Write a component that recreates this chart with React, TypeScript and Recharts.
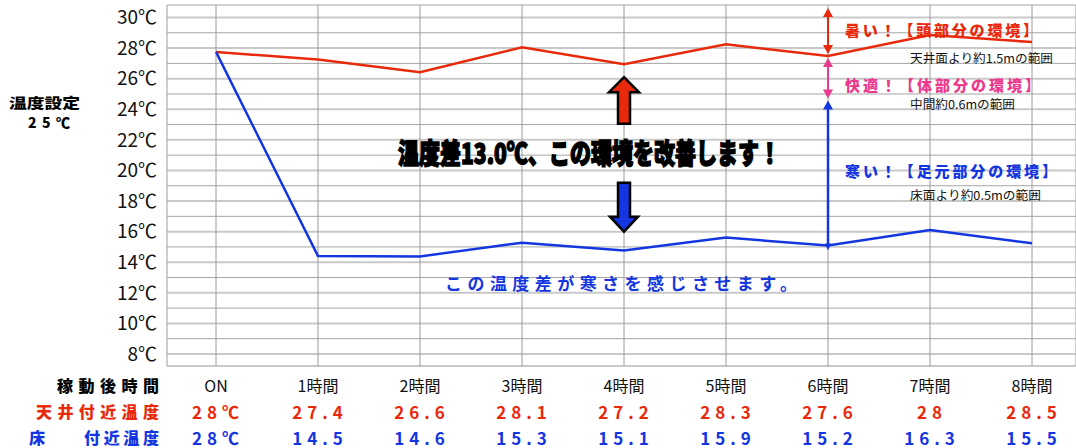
import React from 'react';
import { LineChart, Line, XAxis, YAxis, CartesianGrid, ReferenceLine } from 'recharts';

// ---- data ----
const hours = ['ON', '1時間', '2時間', '3時間', '4時間', '5時間', '6時間', '7時間', '8時間'];
const ceilingTemps = [27.75, 27.25, 26.42, 28.05, 26.94, 28.25, 27.48, 28.85, 28.4];
const floorTemps = [27.75, 14.4, 14.38, 15.28, 14.76, 15.61, 15.09, 16.1, 15.24];
const ceilingLabels = ['28℃', '27.4', '26.6', '28.1', '27.2', '28.3', '27.6', '28', '28.5'];
const floorLabels = ['28℃', '14.5', '14.6', '15.3', '15.1', '15.9', '15.2', '16.3', '15.5'];
const yTicks = [8, 9, 10, 11, 12, 13, 14, 15, 16, 17, 18, 19, 20, 21, 22, 23, 24, 25, 26, 27, 28, 29, 30];
const yDomain = [7.215, 30.817];

// annotation anchors (data units)
const zoneHour = '6時間';
const comfortBottom = 24.7;
const arrowHour = '4時間';
const upArrowRange = [26.1, 23.05];
const downArrowRange = [19.2, 16.0];

const RED = '#e8290b';
const BLUE = '#1436e0';
const PINK = '#ec3a8e';
const FONT = '"Noto Sans CJK JP", "Noto Sans", sans-serif';

const data = hours.map((h, i) => ({ hour: h, ceiling: ceilingTemps[i], floor: floorTemps[i] }));

const headUp = (x: number, y: number, c: string, w = 5, h = 9) => (
  <polygon points={`${x},${y} ${x - w},${y + h} ${x + w},${y + h}`} fill={c} />
);
const headDown = (x: number, y: number, c: string, w = 5, h = 9) => (
  <polygon points={`${x},${y} ${x - w},${y - h} ${x + w},${y - h}`} fill={c} />
);

const ends = (p: any) => {
  const top = Math.min(p.y1, p.y2);
  const bottom = Math.max(p.y1, p.y2);
  return { x: p.x1, top, bottom };
};

const RedDouble = (p: any) => {
  const { x, top, bottom } = ends(p);
  return (
    <g>
      <line x1={x} x2={x} y1={top + 6} y2={bottom - 6} stroke={RED} strokeWidth={2} />
      {headUp(x, top + 3, RED)}
      {headDown(x, bottom - 2, RED)}
    </g>
  );
};
const PinkDouble = (p: any) => {
  const { x, top, bottom } = ends(p);
  return (
    <g>
      <line x1={x} x2={x} y1={top + 6} y2={bottom - 6} stroke={PINK} strokeWidth={2} />
      {headUp(x, top + 2, PINK)}
      {headDown(x, bottom, PINK)}
    </g>
  );
};
const BlueArrow = (p: any) => {
  const { x, top, bottom } = ends(p);
  return (
    <g>
      <line x1={x} x2={x} y1={top + 8} y2={bottom + 2} stroke={BLUE} strokeWidth={2.5} />
      {headUp(x, top + 2, BLUE)}
      {headDown(x, bottom + 5, BLUE, 3, 7)}
    </g>
  );
};

const BlockUp = (p: any) => {
  const { x, top, bottom } = ends(p);
  const hw = 15, sw = 6, hh = 15;
  const pts = [
    [x, top], [x + hw, top + hh], [x + sw, top + hh], [x + sw, bottom],
    [x - sw, bottom], [x - sw, top + hh], [x - hw, top + hh],
  ].map((q) => q.join(',')).join(' ');
  return <polygon points={pts} fill={RED} stroke="#000" strokeWidth={2.5} strokeLinejoin="miter" />;
};
const BlockDown = (p: any) => {
  const { x, top, bottom } = ends(p);
  const hw = 14, sw = 6, hh = 15;
  const pts = [
    [x, bottom], [x + hw, bottom - hh], [x + sw, bottom - hh], [x + sw, top],
    [x - sw, top], [x - sw, bottom - hh], [x - hw, bottom - hh],
  ].map((q) => q.join(',')).join(' ');
  return <polygon points={pts} fill={BLUE} stroke="#000" strokeWidth={2.5} strokeLinejoin="miter" />;
};

const HourTick = (props: any) => {
  const { x, y, payload } = props;
  const i = hours.indexOf(payload.value);
  return (
    <g fontFamily={FONT}>
      <text x={x} y={y + 19} textAnchor="middle" dominantBaseline="central" fontSize={16} fill="#111">
        {payload.value}
      </text>
      <text x={x + 2} y={y + 45} textAnchor="middle" dominantBaseline="central" fontSize={17} fontWeight={700} letterSpacing={5} fill={RED}>
        {ceilingLabels[i]}
      </text>
      <text x={x + 2} y={y + 71} textAnchor="middle" dominantBaseline="central" fontSize={17} fontWeight={700} letterSpacing={5} fill={BLUE}>
        {floorLabels[i]}
      </text>
    </g>
  );
};

const gridLine = (props: any) => {
  const even = props.index % 2 === 0;
  return (
    <line
      key={props.key}
      x1={props.x1}
      x2={props.x2}
      y1={props.y1}
      y2={props.y2}
      stroke={even ? '#c9c9c9' : '#a5a5a5'}
      strokeWidth={even ? 2 : 1}
    />
  );
};

export default function App() {
  return (
    <div style={{ position: 'absolute', left: 0, top: 0, width: 1076, height: 448, background: '#fff' }}>
      <LineChart width={1076} height={448} data={data} margin={{ top: 5, right: 0, bottom: 0, left: 0 }}>
        <CartesianGrid horizontal={gridLine} vertical={true} stroke="#9c9c9c" strokeWidth={1} />
        <XAxis
          dataKey="hour"
          type="category"
          padding={{ left: 49, right: 44 }}
          axisLine={false}
          tickLine={false}
          tickSize={0}
          tickMargin={0}
          height={82}
          interval={0}
          tick={<HourTick />}
        />
        <YAxis
          type="number"
          domain={yDomain}
          allowDataOverflow
          ticks={yTicks}
          interval={0}
          width={167}
          axisLine={false}
          tickLine={false}
          tickSize={0}
          tickMargin={10}
          tick={{ fontSize: 19, fill: '#111', fontFamily: FONT }}
          tickFormatter={(v: number) => (v % 2 === 0 ? `${v}℃` : '')}
        />
        <Line type="linear" dataKey="ceiling" stroke={RED} strokeWidth={2.5} dot={false} isAnimationActive={false} />
        <Line type="linear" dataKey="floor" stroke={BLUE} strokeWidth={2.5} dot={false} isAnimationActive={false} />
        <ReferenceLine
          ifOverflow="visible"
          segment={[{ x: zoneHour, y: yDomain[1] }, { x: zoneHour, y: ceilingTemps[6] }]}
          shape={RedDouble}
        />
        <ReferenceLine
          ifOverflow="visible"
          segment={[{ x: zoneHour, y: ceilingTemps[6] }, { x: zoneHour, y: comfortBottom }]}
          shape={PinkDouble}
        />
        <ReferenceLine
          ifOverflow="visible"
          segment={[{ x: zoneHour, y: comfortBottom }, { x: zoneHour, y: floorTemps[6] }]}
          shape={BlueArrow}
        />
        <ReferenceLine
          ifOverflow="visible"
          segment={[{ x: arrowHour, y: upArrowRange[0] }, { x: arrowHour, y: upArrowRange[1] }]}
          shape={BlockUp}
        />
        <ReferenceLine
          ifOverflow="visible"
          segment={[{ x: arrowHour, y: downArrowRange[0] }, { x: arrowHour, y: downArrowRange[1] }]}
          shape={BlockDown}
        />
      </LineChart>
      <svg
        width={1076}
        height={448}
        style={{ position: 'absolute', left: 0, top: 0, pointerEvents: 'none' }}
        fontFamily={FONT}
      >
        <g dominantBaseline="central">
          <text x={9} y={102} textLength={71} lengthAdjust="spacingAndGlyphs" fontSize={14} fontWeight={900} fill="#000">温度設定</text>
          <text x={28} y={122} textLength={42} lengthAdjust="spacing" fontSize={14} fontWeight={900} fill="#000">25℃</text>

          <text
            transform="translate(398 152) scale(0.68 1)"
            x={0}
            y={0}
            textLength={562}
            lengthAdjust="spacingAndGlyphs"
            fontSize={28}
            fontWeight={900}
            fill="#000"
            stroke="#000"
            strokeWidth={1.5}
          >
            温度差13.0℃、この環境を改善します！
          </text>
          <text x={445} y={282} textLength={352} lengthAdjust="spacing" fontSize={17} fontWeight={700} fill={BLUE}>
            この温度差が寒さを感じさせます。
          </text>

          <text x={845} y={29} textLength={193} lengthAdjust="spacing" fontSize={15} fontWeight={900} fill={RED}>暑い！【頭部分の環境】</text>
          <text x={910} y={57} textLength={143} lengthAdjust="spacingAndGlyphs" fontSize={12} fill="#111">天井面より約1.5mの範囲</text>
          <text x={845} y={84} textLength={195} lengthAdjust="spacing" fontSize={15} fontWeight={900} fill={PINK}>快適！【体部分の環境】</text>
          <text x={910} y={103} textLength={105} lengthAdjust="spacingAndGlyphs" fontSize={12} fill="#111">中間約0.6mの範囲</text>
          <text x={845} y={170} textLength={212} lengthAdjust="spacing" fontSize={15} fontWeight={900} fill={BLUE}>寒い！【足元部分の環境】</text>
          <text x={910} y={194} textLength={131} lengthAdjust="spacingAndGlyphs" fontSize={12} fill="#111">床面より約0.5mの範囲</text>

          <text x={159} y={385} textAnchor="end" textLength={102} lengthAdjust="spacing" fontSize={16} fontWeight={900} fill="#000">稼動後時間</text>
          <text x={159} y={411} textAnchor="end" textLength={123} lengthAdjust="spacing" fontSize={16} fontWeight={900} fill={RED}>天井付近温度</text>
          <text x={29} y={437} fontSize={16} fontWeight={900} fill={BLUE}>床</text>
          <text x={159} y={437} textAnchor="end" textLength={75} lengthAdjust="spacing" fontSize={16} fontWeight={900} fill={BLUE}>付近温度</text>
        </g>
      </svg>
    </div>
  );
}
